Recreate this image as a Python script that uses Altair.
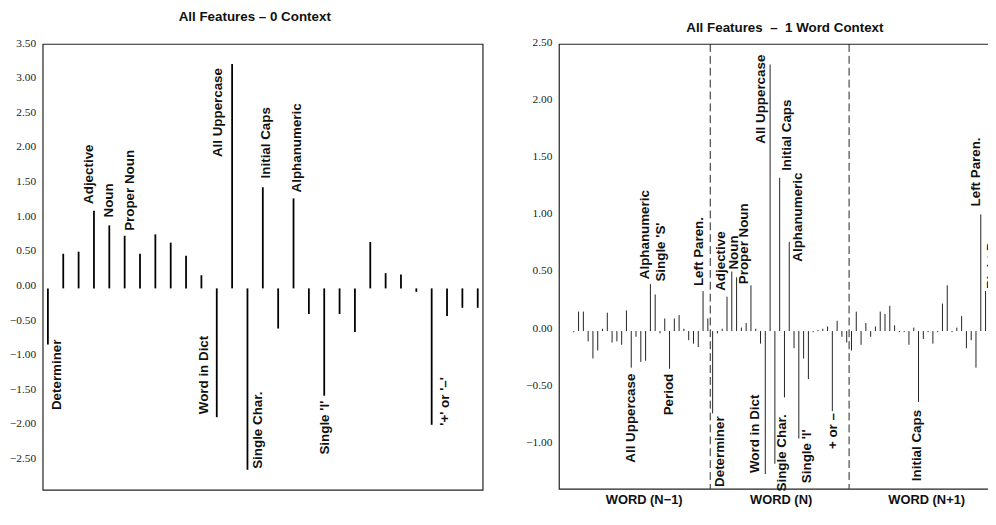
import altair as alt
import pandas as pd

# ---------------- data ----------------
feature_names = ["Determiner", "", "", "Adjective", "Noun", "Proper Noun", "", "", "", "", "",
                 "Word in Dict", "All Uppercase", "Single Char.", "Initial Caps", "", "Alphanumeric",
                 "Single 'S'", "Single 'I'", "", "Period", "", "", "", "", "+ or –", "",
                 "Left Paren.", "Right Paren."]

ctx0_values = [-0.81, 0.50, 0.53, 1.12, 0.91, 0.76, 0.50, 0.78, 0.66, 0.47, 0.19, -1.86, 3.24, -2.62,
               1.46, -0.58, 1.30, -0.37, -1.55, -0.37, -0.63, 0.67, 0.22, 0.20, -0.05, -1.97, -0.40,
               -0.28, -0.28]

ctx1_prev = [-0.01, 0.17, 0.17, -0.09, -0.24, -0.17, 0.02, 0.16, -0.10, -0.09, -0.12, 0.18, -0.32,
             -0.05, -0.27, -0.26, 0.41, 0.32, -0.02, 0.11, -0.33, 0.11, 0.14, 0.02, -0.08, -0.11,
             -0.14, 0.35, 0.11]
ctx1_curr = [-0.72, -0.02, 0.02, 0.30, 0.52, 0.47, 0.03, 0.07, 0.40, 0.02, -0.11, -1.25, 2.33, -1.16,
             1.34, -0.58, 0.78, -0.15, -0.94, -0.24, -0.42, -0.01, 0.01, 0.02, 0.04, -0.70, 0.09,
             -0.05, -0.10]
ctx1_next = [-0.17, 0.17, -0.12, 0.07, -0.05, 0.04, 0.17, 0.15, 0.22, 0.05, -0.01, -0.01, -0.12, 0.03,
             -0.62, -0.07, -0.01, -0.11, -0.01, 0.24, 0.40, -0.01, 0.03, 0.13, -0.15, -0.08, -0.32,
             1.02, 0.35]

group_titles = ["WORD (N−1)", "WORD (N)", "WORD (N+1)"]
ctx0_ticks = [3.5, 3.0, 2.5, 2.0, 1.5, 1.0, 0.5, 0.0, -0.5, -1.0, -1.5, -2.0, -2.5]
ctx1_ticks = [2.5, 2.0, 1.5, 1.0, 0.5, 0.0, -0.5, -1.0]

# labelled bars: feature index (left) / (group, feature index) (right)
ctx0_labeled = [0, 3, 4, 5, 11, 12, 13, 14, 16, 18, 25]
ctx0_text_override = {25: "'+' or '–'"}
ctx1_labeled = [(0, 12), (0, 16), (0, 17), (0, 20), (0, 27),
                (1, 0), (1, 3), (1, 4), (1, 5), (1, 11), (1, 12), (1, 13), (1, 14), (1, 16),
                (1, 18), (1, 25),
                (2, 14), (2, 27), (2, 28)]

# ---------------- style ----------------
LABEL_FONT = "Liberation Sans"
TICK_FONT = "Liberation Serif, Times New Roman, serif"
LABEL_SIZE = 13.5
INK = "#111111"

# (align, shift up px, shift right px) for each label
ctx0_label_style = {0: ("right", 5, 9), 3: ("left", 7, -5), 4: ("left", 8, 0), 5: ("left", 5, 5),
                    11: ("left", 3, -13), 12: ("right", -4, -14), 13: ("left", 1, 11),
                    14: ("left", 9, 3), 16: ("left", 6, 4), 18: ("right", -5, 1),
                    25: ("left", -1, 13)}
ctx1_label_style = {(0, 12): ("right", -6, 0), (0, 16): ("left", 5, -5), (0, 17): ("left", 13, 6),
                    (0, 20): ("right", -5, -1), (0, 27): ("left", 5, -4),
                    (1, 0): ("right", -3, 7), (1, 3): ("left", 6, -6), (1, 4): ("left", 2, 2),
                    (1, 5): ("left", -7, 8), (1, 11): ("left", 1, -10), (1, 12): ("right", 10, -9),
                    (1, 13): ("left", -28, 7), (1, 14): ("left", 7, 7), (1, 16): ("left", -20, 9),
                    (1, 18): ("left", -45, 8), (1, 25): ("right", -2, 1),
                    (2, 14): ("right", -8, -1), (2, 27): ("left", 8, -5), (2, 28): ("left", 2, 7)}
group_title_pos = [14.6, 43.2, 73.6]

n = len(feature_names)

# ---------------- tables ----------------
df0 = pd.DataFrame({
    "idx": list(range(n)),
    "value": ctx0_values,
    "label": [ctx0_text_override.get(i, feature_names[i]) for i in range(n)],
})
rows = []
for g, vals in enumerate([ctx1_prev, ctx1_curr, ctx1_next]):
    for i, v in enumerate(vals):
        rows.append({"idx": g * n + i, "value": v, "label": feature_names[i]})
df1 = pd.DataFrame(rows)
sep_df = pd.DataFrame({"pos": [g * n - 0.5 for g in range(1, len(group_titles))]})

x0 = alt.Scale(domain=[-0.34, 28.32], nice=False, zero=False)
y0 = alt.Scale(domain=[-2.91, 3.53], nice=False, zero=False)
x1 = alt.Scale(domain=[-3.1, 89.2], nice=False, zero=False)
y1 = alt.Scale(domain=[-1.38, 2.51], nice=False, zero=False)


def y_axis(ticks):
    return alt.Axis(values=ticks, format=".2f", ticks=False, domain=False, grid=False,
                    labelFont=TICK_FONT, labelFontSize=11.5, labelColor="#222222",
                    labelPadding=7, labelOffset=-3, title=None)


label_expr = " : ".join(
    f"datum.value < {(g + 1) * n} ? '{t}'" for g, t in enumerate(group_titles[:-1])
) + f" : '{group_titles[-1]}'"

ax_y0 = y_axis(ctx0_ticks)
ax_y1 = y_axis(ctx1_ticks)
ax_x0 = alt.Axis(values=[], ticks=False, domain=False, grid=False, labels=False, title=None)
ax_x1 = alt.Axis(values=group_title_pos, labelExpr=label_expr, ticks=False, domain=False,
                 grid=False, labelFont=LABEL_FONT, labelFontSize=13, labelFontWeight="bold",
                 labelColor=INK, labelPadding=5, labelFlush=False, labelOverlap=False,
                 title=None)


def label_layers(df, keys, style, key_to_idx, xs, ys, ax, ay):
    layers = []
    for key in keys:
        align, up, right = style[key]
        idx = key_to_idx(key)
        layers.append(
            alt.Chart(df[df["idx"] == idx]).mark_text(
                angle=270, align=align, baseline="middle", dx=up, dy=right,
                font=LABEL_FONT, fontSize=LABEL_SIZE, fontWeight="bold", color=INK
            ).encode(
                x=alt.X("idx:Q", scale=xs, axis=ax),
                y=alt.Y("value:Q", scale=ys, axis=ay),
                text="label:N",
            )
        )
    return layers


# ---------------- left panel ----------------
bars0 = alt.Chart(df0).mark_rule(color="black", strokeWidth=1.8).encode(
    x=alt.X("idx:Q", scale=x0, axis=ax_x0),
    y=alt.Y("value:Q", scale=y0, axis=ax_y0),
    y2=alt.datum(0),
)
left = alt.layer(
    bars0,
    *label_layers(df0, ctx0_labeled, ctx0_label_style, lambda k: k, x0, y0, ax_x0, ax_y0),
).properties(
    width=444, height=450,
    title=alt.TitleParams("All Features – 0 Context", font=LABEL_FONT, fontSize=LABEL_SIZE,
                          fontWeight="bold", color=INK, anchor="middle", offset=14, dx=-8),
)

# ---------------- right panel ----------------
bars1 = alt.Chart(df1).mark_rule(color="#222222", strokeWidth=1).encode(
    x=alt.X("idx:Q", scale=x1, axis=ax_x1),
    y=alt.Y("value:Q", scale=y1, axis=ax_y1),
    y2=alt.datum(0),
)
seps = alt.Chart(sep_df).mark_rule(color="#222222", strokeWidth=1, strokeDash=[8, 4]).encode(
    x=alt.X("pos:Q", scale=x1, axis=ax_x1),
)
right = alt.layer(
    bars1, seps,
    *label_layers(df1, ctx1_labeled, ctx1_label_style, lambda k: k[0] * n + k[1], x1, y1,
                  ax_x1, ax_y1),
).properties(
    width=446, height=449,
    title=alt.TitleParams("All Features\u00a0 –\u00a0 1 Word Context", font=LABEL_FONT,
                          fontSize=LABEL_SIZE, fontWeight="bold", color=INK, anchor="middle",
                          offset=2, dx=5),
)

chart = alt.hconcat(left, right, spacing=41).properties(
    padding={"left": 0, "top": -2, "right": -14, "bottom": -1}
).configure_view(stroke="#222222", strokeWidth=1.2)

chart.save("out.html", embed_options={"renderer": "svg", "actions": False})
